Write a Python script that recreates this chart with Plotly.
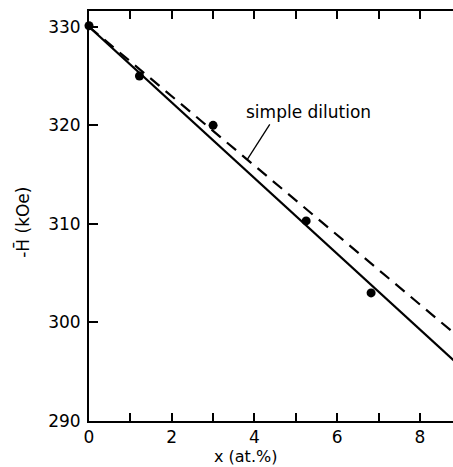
import plotly.graph_objects as go

# measured data points
x_meas = [0.0, 1.22, 3.0, 5.25, 6.82]
h_meas = [330.1, 325.0, 320.0, 310.3, 303.0]

# fitted (solid) line and simple dilution (dashed) line endpoints
x_line = [0.0, 9.0]
h_fit = [330.0, 295.45]
h_dil = [330.0, 298.3]

# pointer for the "simple dilution" label
x_ptr = [4.37, 3.82]
h_ptr = [320.1, 316.5]

x_ticks = [0, 2, 4, 6, 8]
y_ticks = [290, 300, 310, 320, 330]

FONT = "DejaVu Sans"

fig = go.Figure()
fig.add_trace(go.Scatter(x=x_line, y=h_dil, mode="lines",
                         line=dict(color="black", width=2.2, dash="12px,8px"),
                         showlegend=False, hoverinfo="skip"))
fig.add_trace(go.Scatter(x=x_line, y=h_fit, mode="lines",
                         line=dict(color="black", width=2.2),
                         showlegend=False, hoverinfo="skip"))
fig.add_trace(go.Scatter(x=x_ptr, y=h_ptr, mode="lines",
                         line=dict(color="black", width=1.3),
                         showlegend=False, hoverinfo="skip"))
fig.add_trace(go.Scatter(x=x_meas, y=h_meas, mode="markers",
                         marker=dict(color="black", size=9),
                         showlegend=False, cliponaxis=False))

fig.add_annotation(x=5.3, y=321.4, text="simple dilution", showarrow=False,
                   font=dict(family=FONT, size=17, color="black"))
fig.add_annotation(x=0.43, y=-0.087, xref="paper", yref="paper",
                   xanchor="center", yanchor="middle",
                   text="x (at.%)", showarrow=False,
                   font=dict(family=FONT, size=16, color="black"))
fig.add_annotation(x=-0.185, y=0.485, xref="paper", yref="paper",
                   xanchor="center", yanchor="middle",
                   text="-H\u0304 (kOe)", showarrow=False, textangle=-90,
                   font=dict(family=FONT, size=17, color="black"))

fig.update_xaxes(range=[0, 8.8], showgrid=False, zeroline=False, automargin=False,
                 showline=True, linecolor="black", linewidth=2, mirror="ticks",
                 ticks="inside", ticklen=8, tickwidth=2, tickcolor="black",
                 tickvals=list(range(0, 9)),
                 ticktext=[str(v) if v in x_ticks else "" for v in range(0, 9)],
                 tickfont=dict(family=FONT, size=17, color="black"))
fig.update_yaxes(range=[290, 331.6], showgrid=False, zeroline=False, automargin=False,
                 showline=True, linecolor="black", linewidth=2, mirror=False,
                 ticks="inside", ticklen=9, tickwidth=2, tickcolor="black",
                 tickvals=y_ticks, ticklabelstandoff=3,
                 tickfont=dict(family=FONT, size=17, color="black"))

fig.update_layout(width=453, height=467,
                  margin=dict(l=89, r=0, t=11, b=46),
                  plot_bgcolor="white", paper_bgcolor="white")

fig.write_html("out.html", config={"displayModeBar": False},
               post_script="document.body.style.margin='0';"
                           "document.body.style.overflow='hidden';"
                           "document.documentElement.style.overflow='hidden';")
